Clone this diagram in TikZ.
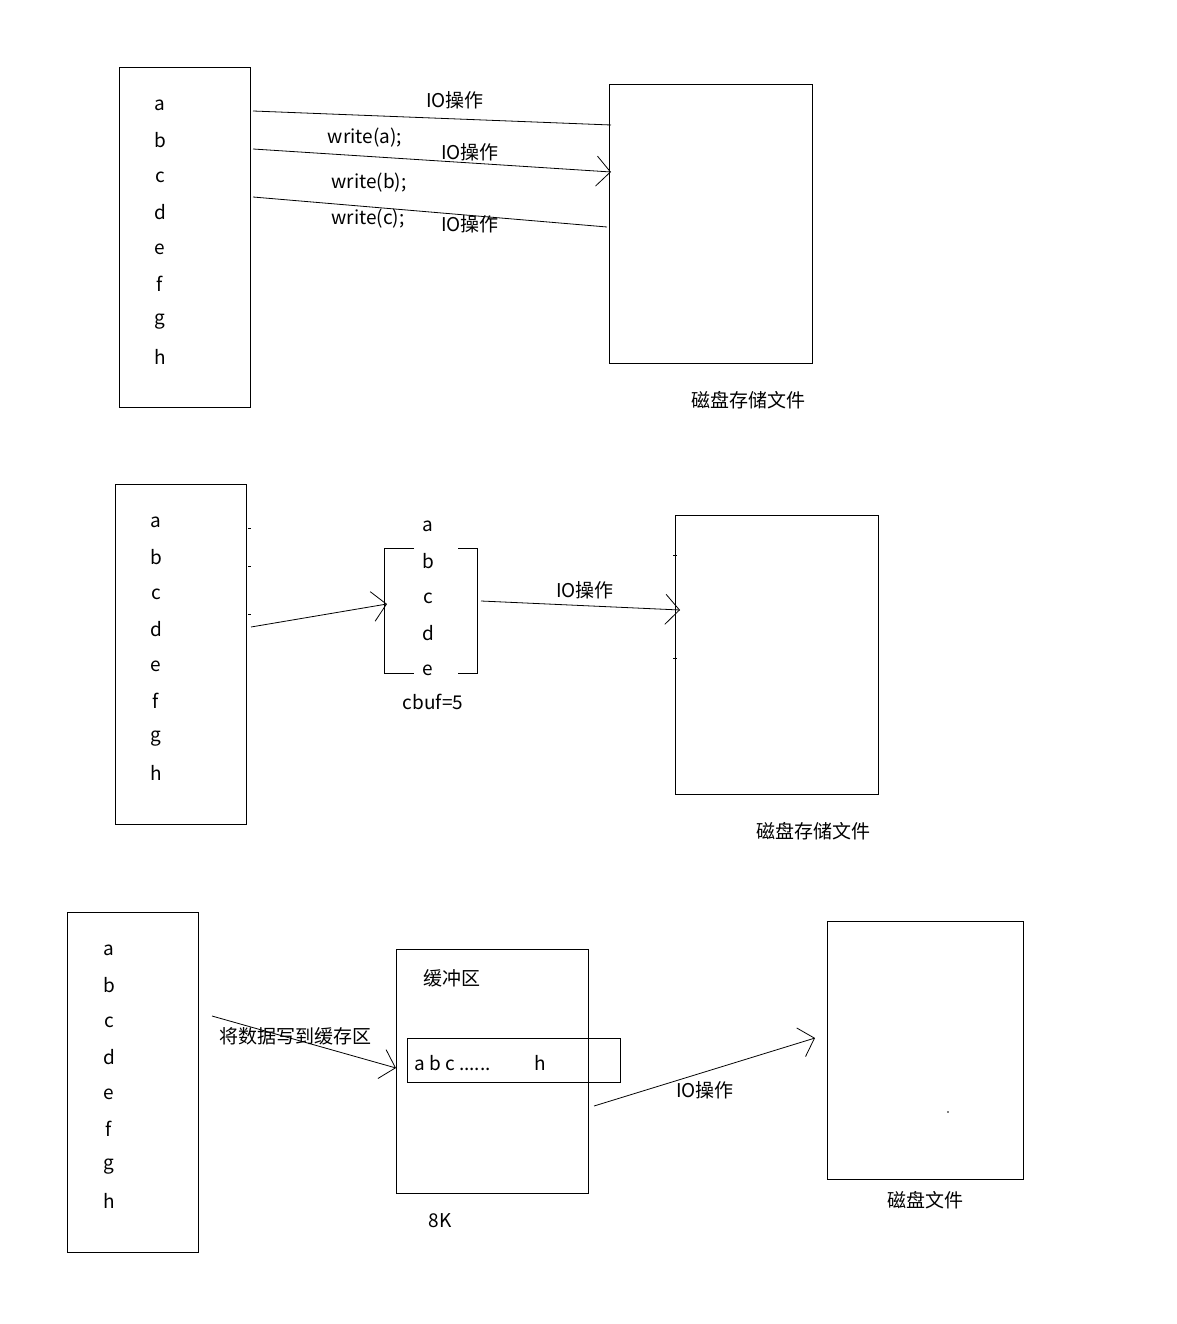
\documentclass[tikz,border=0pt]{standalone}
\usepackage{fontspec}
\setmainfont{Noto Sans CJK SC}
\usetikzlibrary{arrows.meta}
\begin{document}
\begin{tikzpicture}[x=1pt,y=-1pt,
  box/.style={draw,line width=0.8pt},
  ln/.style={line width=0.8pt},
  barb/.style={ln,-{Straight Barb[length=14pt,width=30pt,line width=0.8pt]}},
  t/.style={font=\fontsize{19}{20}\selectfont,inner sep=0pt},
  every node/.style={t}]
\useasboundingbox (0,0) rectangle (1176,1324);
% top
\draw[box] (119,67) rectangle (250,407);
\foreach \l/\y in {a/105,b/140,c/177,d/212,e/249,f/284,g/322,h/357} \node at (160,\y) {\l};
\draw[box] (609,84) rectangle (812,363);
\node (l1) at (748,400) {磁盘存储文件};
\coordinate (a1) at (253,111); \coordinate (a2) at (611,125);
\coordinate (b1) at (253,149); \coordinate (b2) at (611,172);
\coordinate (c1) at (253,197); \coordinate (c2) at (607,227);
\draw[ln] (a1) -- (a2);
\draw[barb] (b1) -- (b2);
\draw[ln] (c1) -- (c2);
\node at (455,100) {IO操作};
\node at (365,138) {write(a);};
\node at (470,152) {IO操作};
\node at (369,183) {write(b);};
\node at (368,219) {write(c);};
\node at (470,224) {IO操作};
% middle
\draw[box] (115,484) rectangle (246,824);
\foreach \l/\y in {a/522,b/557,c/594,d/629,e/666,f/701,g/739,h/773} \node at (156,\y) {\l};
\foreach \y in {528,566,614} \draw[line width=0.5pt] (248,\y) -- (251,\y);
\draw[ln] (414,548) -- (384,548) -- (384,673) -- (414,673);
\draw[ln] (458,548) -- (477,548) -- (477,673) -- (458,673);
\foreach \l/\y in {a/526,b/561,c/598,d/633,e/670} \node at (428,\y) {\l};
\node at (433,702) {cbuf=5};
\coordinate (m1) at (251,627); \coordinate (m2) at (387,604);
\coordinate (m3) at (481,601); \coordinate (m4) at (680,610);
\draw[barb] (m1) -- (m2);
\draw[barb] (m3) -- (m4);
\node at (585,590) {IO操作};
\draw[box] (675,515) rectangle (878,794);
\foreach \y in {555,658} \draw[line width=0.5pt] (673,\y) -- (677,\y);
\node at (813,831) {磁盘存储文件};
% bottom
\draw[box] (67,912) rectangle (198,1252);
\foreach \l/\y in {a/950,b/985,c/1022,d/1057,e/1094,f/1129,g/1167,h/1201} \node at (109,\y) {\l};
\draw[box] (396,949) rectangle (588,1193);
\node at (452,978) {缓冲区};
\draw[box] (407,1038) rectangle (620,1082);
\node[anchor=west] at (414,1063) {a b c ......};
\node at (540,1063) {h};
\node at (440,1221) {8K};
\coordinate (n1) at (212,1016); \coordinate (n2) at (396,1068);
\coordinate (n3) at (594,1106); \coordinate (n4) at (815,1038);
\draw[barb] (n1) -- (n2);
\node at (295,1036) {将数据写到缓存区};
\draw[barb] (n3) -- (n4);
\node at (705,1090) {IO操作};
\draw[box] (827,921) rectangle (1023,1179);
\node at (925,1200) {磁盘文件};
\fill (948,1112) circle (0.8pt);
\end{tikzpicture}
\end{document}
